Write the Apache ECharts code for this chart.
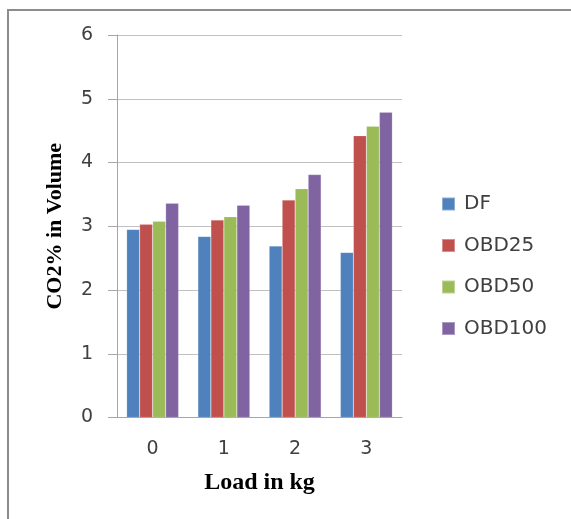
<!DOCTYPE html>
<html>
<head>
<meta charset="utf-8">
<script src="https://cdn.jsdelivr.net/npm/echarts@6/dist/echarts.min.js"></script>
<style>
  html, body { margin: 0; padding: 0; background: #fff; }
  #chart { width: 571px; height: 519px; }
</style>
</head>
<body>
<div id="chart"></div>
<script>
// load in kg
var loads = ['0', '1', '2', '3'];
// CO2 % in volume
var dfVals = [2.95, 2.84, 2.69, 2.59];
var obd25Vals = [3.03, 3.10, 3.41, 4.42];
var obd50Vals = [3.08, 3.15, 3.59, 4.57];
var obd100Vals = [3.36, 3.33, 3.81, 4.79];
var seriesNames = ['DF', 'OBD25', 'OBD50', 'OBD100'];
var yTicks = { min: 0, max: 6, step: 1 };

var colors = ['#4f81bd', '#c0504d', '#9bbb59', '#8064a2'];
var labelFont = 'DejaVu Sans';
var titleFont = 'Liberation Serif';

var chart = echarts.init(document.getElementById('chart'));

function bar(name, vals) {
    return {
        name: name,
        type: 'bar',
        data: vals,
        barWidth: 13,
        barGap: '0%',
        itemStyle: { borderColor: 'rgba(255,255,255,0.35)', borderWidth: 0.5 }
    };
}

chart.setOption({
    animation: false,
    color: colors,
    grid: { left: 117, top: 35, right: 169, bottom: 101.5, containLabel: false },
    legend: {
        orient: 'vertical',
        left: 436,
        top: 189,
        itemWidth: 13,
        itemHeight: 13,
        itemGap: 21.5,
        icon: 'rect',
        data: seriesNames,
        textStyle: {
            fontFamily: labelFont,
            fontSize: 20,
            color: '#404040',
            lineHeight: 20,
            padding: [0, 0, 0, 4]
        }
    },
    xAxis: {
        type: 'category',
        data: loads,
        name: 'Load in kg',
        nameLocation: 'middle',
        nameGap: 53,
        nameTextStyle: { fontFamily: titleFont, fontWeight: 'bold', fontSize: 24, color: '#000' },
        axisLine: { lineStyle: { color: '#a6a6a6', width: 1 } },
        axisTick: { show: false },
        axisLabel: { fontFamily: labelFont, fontSize: 19, color: '#404040', margin: 22 }
    },
    yAxis: {
        type: 'value',
        min: yTicks.min,
        max: yTicks.max,
        interval: yTicks.step,
        name: 'CO2% in Volume',
        nameLocation: 'middle',
        nameGap: 51,
        nameTextStyle: { fontFamily: titleFont, fontWeight: 'bold', fontSize: 22, color: '#000' },
        axisLine: { show: true, lineStyle: { color: '#a6a6a6', width: 1 } },
        axisTick: { show: true, length: 9, lineStyle: { color: '#a6a6a6' } },
        axisLabel: { fontFamily: labelFont, fontSize: 19, color: '#404040', margin: 24 },
        splitLine: { lineStyle: { color: '#c0c0c0', width: 1 } }
    },
    graphic: [
        // frame round the picture: top and left edges only
        { type: 'line', shape: { x1: 7, y1: 10, x2: 571, y2: 10 }, style: { stroke: '#8c8c8c', lineWidth: 2 } },
        { type: 'line', shape: { x1: 8, y1: 10, x2: 8, y2: 519 }, style: { stroke: '#8c8c8c', lineWidth: 2 } }
    ],
    series: [
        bar(seriesNames[0], dfVals),
        bar(seriesNames[1], obd25Vals),
        bar(seriesNames[2], obd50Vals),
        bar(seriesNames[3], obd100Vals)
    ]
});
</script>
</body>
</html>
